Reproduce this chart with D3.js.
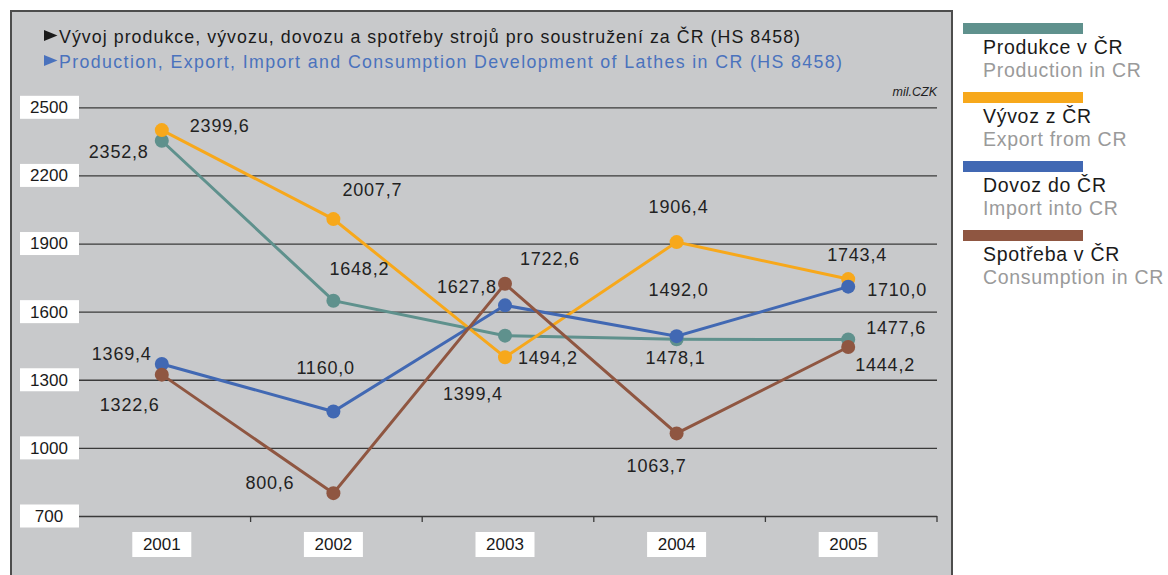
<!DOCTYPE html>
<html>
<head>
<meta charset="utf-8">
<script src="https://cdn.jsdelivr.net/npm/d3@7"></script>
<style>
  body { margin: 0; background: #fff; }
  svg { display: block; font-family: "Liberation Sans", Arial, sans-serif; }
</style>
</head>
<body>
<div id="chart"></div>
<script>
const years = ['2001', '2002', '2003', '2004', '2005'];
const yTicks = [700, 1000, 1300, 1600, 1900, 2200, 2500];

const production = [2352.8, 1648.2, 1494.2, 1478.1, 1477.6];
const exportCR = [2399.6, 2007.7, 1399.4, 1906.4, 1743.4];
const importCR = [1369.4, 1160.0, 1627.8, 1492.0, 1710.0];
const consumption = [1322.6, 800.6, 1722.6, 1063.7, 1444.2];

const seriesNames = ['Produkce v ČR', 'Vývoz z ČR', 'Dovoz do ČR', 'Spotřeba v ČR'];
const seriesNamesEn = ['Production in CR', 'Export from CR', 'Import into CR', 'Consumption in CR'];

// label placement relative to each point (left edge, vertical centre)
const labelOffsets = [
    [[-73, 11], [-4, -32], [13, 22], [-31, 18], [18, -12]],
    [[28, -4], [9, -29], [-62, 37], [-28, -35], [-21, -24]],
    [[-70, -10], [-37, -44], [-68, -19], [-28, -46], [19, 3]],
    [[-62, 30], [-88, -10], [15, -25], [-50, 32], [7, 18]]
];

const colors = ['#5f918d', '#f7a81b', '#4168b3', '#8f5641'];
const allSeries = [production, exportCR, importCR, consumption];

const W = 1168, H = 575;
const svg = d3.select('#chart').append('svg').attr('width', W).attr('height', H);

// grey panel
svg.append('rect')
    .attr('x', 11).attr('y', 11).attr('width', 941).attr('height', 620)
    .attr('fill', '#c8c9cb').attr('stroke', '#4d4d4d').attr('stroke-width', 2);

// title, two lines with arrow bullets
const titleLines = [
    { text: 'Vývoj produkce, vývozu, dovozu a spotřeby strojů pro soustružení za ČR (HS 8458)', color: '#1a1a1a', len: 741 },
    { text: 'Production, Export, Import and Consumption Development of Lathes in CR (HS 8458)', color: '#4a72bd', len: 783 }
];
titleLines.forEach((t, i) => {
    const by = 43 + i * 25;
    svg.append('path')
        .attr('d', `M44,${by - 13}L57.5,${by - 7.5}L44,${by - 2}Z`)
        .attr('fill', t.color);
    svg.append('text').attr('x', 59).attr('y', by)
        .attr('font-size', 17.8).attr('fill', t.color)
        .attr('textLength', t.len).attr('lengthAdjust', 'spacing')
        .text(t.text);
});

svg.append('text').attr('x', 937).attr('y', 96)
    .attr('text-anchor', 'end').attr('font-size', 12.5).attr('font-style', 'italic')
    .attr('fill', '#222').text('mil.CZK');

const x = d3.scaleBand().domain(years).range([79, 937]);
const y = d3.scaleLinear().domain([700, 2500]).range([516, 107.3]);
const cx = d => x(d) + x.bandwidth() / 2 - 3;

// gridlines
svg.append('g')
    .attr('transform', 'translate(79,0)')
    .call(d3.axisLeft(y).tickValues(yTicks).tickSize(-858).tickFormat(''))
    .call(g => g.select('.domain').remove())
    .call(g => g.selectAll('line').attr('stroke', '#3a3a3a').attr('stroke-width', 1.3));

// y tick labels in white boxes
const yl = svg.append('g').selectAll('g').data(yTicks).join('g')
    .attr('transform', d => `translate(0,${y(d)})`);
yl.append('rect').attr('x', 20).attr('y', -11.5).attr('width', 59).attr('height', 23).attr('fill', '#fff');
yl.append('text').attr('x', 49).attr('dy', '0.35em').attr('text-anchor', 'middle')
    .attr('font-size', 17).attr('fill', '#1a1a1a').text(d => d);

// x ticks at category boundaries
svg.append('g').selectAll('line').data(years).join('line')
    .attr('x1', d => x(d) + x.bandwidth()).attr('x2', d => x(d) + x.bandwidth())
    .attr('y1', y(700)).attr('y2', y(700) + 6)
    .attr('stroke', '#3a3a3a').attr('stroke-width', 1.3);

const xl = svg.append('g').selectAll('g').data(years).join('g')
    .attr('transform', d => `translate(${cx(d)},544.5)`);
xl.append('rect').attr('x', -29.5).attr('y', -12.5).attr('width', 59).attr('height', 25).attr('fill', '#fff');
xl.append('text').attr('dy', '0.35em').attr('text-anchor', 'middle')
    .attr('font-size', 17).attr('fill', '#1a1a1a').text(d => d);

// lines and dots
const line = d3.line().x((d, i) => cx(years[i])).y(d => y(d));
allSeries.forEach((vals, s) => {
    const g = svg.append('g');
    g.append('path').attr('d', line(vals)).attr('fill', 'none')
        .attr('stroke', colors[s]).attr('stroke-width', 3);
    g.selectAll('circle').data(vals).join('circle')
        .attr('cx', (d, i) => cx(years[i])).attr('cy', d => y(d))
        .attr('r', 7).attr('fill', colors[s]);
});

// value labels
allSeries.forEach((vals, s) => {
    svg.append('g').selectAll('text').data(vals).join('text')
        .attr('x', (d, i) => cx(years[i]) + labelOffsets[s][i][0])
        .attr('y', (d, i) => y(d) + labelOffsets[s][i][1])
        .attr('dy', '0.35em')
        .attr('font-size', 18).attr('letter-spacing', 0.8).attr('fill', '#222')
        .text(d => d.toFixed(1).replace('.', ','));
});

// legend
const lg = svg.append('g').selectAll('g').data(seriesNames).join('g')
    .attr('transform', (d, i) => `translate(963,${23 + i * 69})`);
lg.append('rect').attr('width', 120).attr('height', 11).attr('fill', (d, i) => colors[i]);
lg.append('text').attr('x', 20).attr('y', 31).attr('font-size', 19.5).attr('letter-spacing', 0.7)
    .attr('fill', '#1a1a1a').text(d => d);
lg.append('text').attr('x', 20).attr('y', 54).attr('font-size', 19.5).attr('letter-spacing', 0.7)
    .attr('fill', '#9a9a9a').text((d, i) => seriesNamesEn[i]);
</script>
</body>
</html>
